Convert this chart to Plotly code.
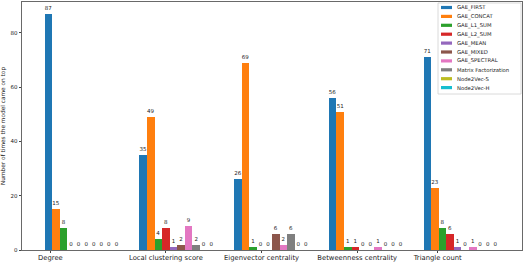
import plotly.graph_objects as go

categories = ["Degree", "Local clustering score", "Eigenvector centrality",
              "Betweenness centrality", "Triangle count"]
models = ["GAE_FIRST", "GAE_CONCAT", "GAE_L1_SUM", "GAE_L2_SUM", "GAE_MEAN",
          "GAE_MIXED", "GAE_SPECTRAL", "Matrix Factorization", "Node2Vec-S", "Node2Vec-H"]
colors = ["#1f77b4", "#ff7f0e", "#2ca02c", "#d62728", "#9467bd",
          "#8c564b", "#e377c2", "#7f7f7f", "#bcbd22", "#17becf"]

gae_first = [87, 35, 26, 56, 71]
gae_concat = [15, 49, 69, 51, 23]
gae_l1_sum = [8, 4, 1, 1, 8]
gae_l2_sum = [0, 8, 0, 1, 6]
gae_mean = [0, 1, 0, 0, 1]
gae_mixed = [0, 2, 6, 0, 0]
gae_spectral = [0, 9, 2, 1, 1]
matrix_fact = [0, 2, 6, 0, 0]
node2vec_s = [0, 0, 0, 0, 0]
node2vec_h = [0, 0, 0, 0, 0]
series = [gae_first, gae_concat, gae_l1_sum, gae_l2_sum, gae_mean,
          gae_mixed, gae_spectral, matrix_fact, node2vec_s, node2vec_h]

bar_w = 0.08
tick_offsets = [0.02, 1.24, 2.25, 3.26, 4.11]

fig = go.Figure()
for k, (name, vals, c) in enumerate(zip(models, series, colors)):
    xs = [i + k * bar_w for i in range(len(categories))]
    fig.add_trace(go.Bar(
        x=xs, y=vals, width=bar_w, name=name, marker_color=c,
        marker_line_width=0,
        text=[str(v) for v in vals], textposition="outside",
        textfont=dict(size=5.5, color="#222", family="DejaVu Sans"),
        cliponaxis=False, showlegend=False, hoverinfo="skip",
    ))

# custom legend (matplotlib-style)
W, H, L, T = 500.0, 248.0, 22.0, 2.0
def px(xp):
    return (xp - L) / W
def py(yp):
    return (T + H - yp) / H

shapes = [dict(type="rect", xref="paper", yref="paper",
               x0=px(438), x1=px(521), y0=py(94), y1=py(3),
               line=dict(color="#d0d0d0", width=0.8), fillcolor="rgba(255,255,255,0.85)",
               layer="above")]
annotations = []
for k, (name, c) in enumerate(zip(models, colors)):
    yc = 7.5 + k * 8.9
    shapes.append(dict(type="rect", xref="paper", yref="paper",
                       x0=px(441), x1=px(452), y0=py(yc + 1.6), y1=py(yc - 1.6),
                       line=dict(width=0), fillcolor=c, layer="above"))
    annotations.append(dict(xref="paper", yref="paper", x=px(455), y=py(yc),
                            text=name, showarrow=False, xanchor="left", yanchor="middle",
                            font=dict(size=5.3, color="#222", family="DejaVu Sans")))

fig.update_layout(
    width=525, height=264,
    margin=dict(l=22, r=3, t=2, b=14),
    paper_bgcolor="white", plot_bgcolor="white",
    barmode="overlay", bargap=0,
    font=dict(family="DejaVu Sans", color="#222"),
    shapes=shapes, annotations=annotations,
    xaxis=dict(range=[-0.28, 5.0], tickmode="array",
               tickvals=tick_offsets, ticktext=categories,
               tickfont=dict(size=6.8, color="#222"),
               ticklabelstandoff=-1,
               showline=True, linecolor="#444", linewidth=0.8, mirror=True,
               ticks="outside", ticklen=2, tickcolor="#444",
               showgrid=False, zeroline=False),
    yaxis=dict(range=[0, 91.35], tickvals=[0, 20, 40, 60, 80],
               tickfont=dict(size=5.5, color="#222"),
               showline=True, linecolor="#444", linewidth=0.8, mirror=True,
               ticks="outside", ticklen=2.5, tickcolor="#444",
               showgrid=False, zeroline=False,
               title=dict(text="Number of times the model came on top",
                          font=dict(size=5.8, color="#222"), standoff=4)),
)

fig.write_html("out.html", config={"displayModeBar": False, "staticPlot": True})

with open("out.html", "r", encoding="utf-8") as f:
    html = f.read()
html = html.replace("<head>", "<head><style>html,body{margin:0;padding:0;overflow:hidden;}</style>", 1)
with open("out.html", "w", encoding="utf-8") as f:
    f.write(html)
